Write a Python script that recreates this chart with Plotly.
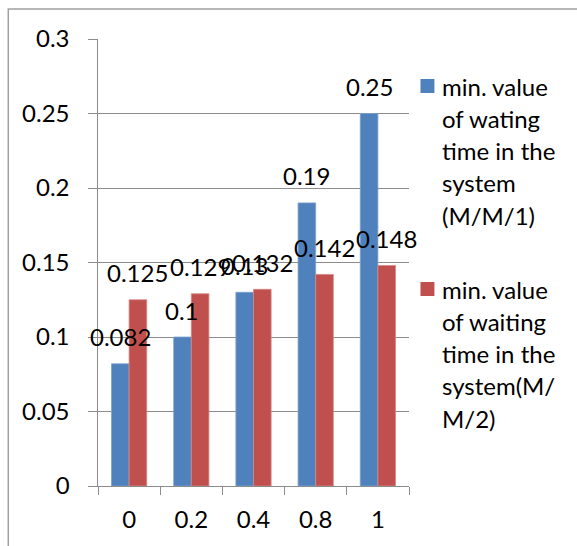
import plotly.graph_objects as go

# ---- data ----
categories = ["0", "0.2", "0.4", "0.8", "1"]
mm1_values = [0.082, 0.1, 0.13, 0.19, 0.25]
mm2_values = [0.125, 0.129, 0.132, 0.142, 0.148]
mm1_legend = ["min. value", "of wating", "time in the", "system", "(M/M/1)"]
mm2_legend = ["min. value", "of waiting", "time in the", "system(M/", "M/2)"]
y_ticks = [0, 0.05, 0.1, 0.15, 0.2, 0.25, 0.3]
y_ticktext = ["0", "0.05", "0.1", "0.15", "0.2", "0.25", "0.3"]

# ---- style ----
W, H = 577, 546
L, R, T, B = 97.5, 409.5, 39, 486
BLUE, RED = "#4F81BD", "#C0504D"
GRID = "#8c8c8c"
FONT = "Lato"
FS = 24
BARGAP = 0.433

pw, ph = R - L, B - T
def px(x):
    return (x - L) / pw
def py(y):
    return (B - y) / ph

bar_w_px = pw / len(categories) * (1 - BARGAP) / 2

fig = go.Figure()
fig.add_trace(go.Bar(x=categories, y=mm1_values, name="min. value of wating time in the system (M/M/1)",
                     marker=dict(color=BLUE, line=dict(color="#7fa2cf", width=0.8))))
fig.add_trace(go.Bar(x=categories, y=mm2_values, name="min. value of waiting time in the system(M/M/2)",
                     marker=dict(color=RED, line=dict(color="#d68886", width=0.8))))

annotations = []
for vals, sgn in ((mm1_values, -1), (mm2_values, 1)):
    for i, v in enumerate(vals):
        annotations.append(dict(x=i, y=v, xref="x", yref="y", text=f"{v:g}", showarrow=False,
                                xshift=sgn * bar_w_px / 2, yshift=27, yanchor="middle",
                                font=dict(family=FONT, size=FS, color="black")))

# manual legend
shapes = []
leg_x_sq, leg_x_txt = 421, 443
for lines, color, y0 in ((mm1_legend, BLUE, 86), (mm2_legend, RED, 289)):
    shapes.append(dict(type="rect", xref="paper", yref="paper",
                       x0=px(leg_x_sq), x1=px(leg_x_sq + 14), y0=py(y0 - 7), y1=py(y0 + 7),
                       fillcolor=color, line=dict(width=0)))
    for i, t in enumerate(lines):
        annotations.append(dict(x=px(leg_x_txt), y=py(y0 + i * 32.3), xref="paper", yref="paper",
                                text=t, showarrow=False, xanchor="left", yanchor="middle",
                                xshift=-2,
                                font=dict(family=FONT, size=FS, color="black")))

# outer border
shapes.append(dict(type="rect", xref="paper", yref="paper",
                   x0=px(7.5), x1=px(600), y0=py(570), y1=py(9),
                   line=dict(color="#a0a0a0", width=1.5), fillcolor="rgba(0,0,0,0)", layer="below"))

fig.update_layout(
    width=W, height=H,
    margin=dict(l=L, r=W - R, t=T, b=H - B, pad=0, autoexpand=False),
    paper_bgcolor="white", plot_bgcolor="white",
    barmode="group", bargap=BARGAP, bargroupgap=0,
    showlegend=False,
    font=dict(family=FONT, size=FS, color="black"),
    annotations=annotations, shapes=shapes,
    xaxis=dict(type="category", range=[-0.5, len(categories) - 0.5], autorange=False,
               showline=True, linecolor=GRID, linewidth=1.3,
               ticks="outside", ticklen=8, tickcolor=GRID, tickwidth=1.3,
               tickson="boundaries", showgrid=False, ticklabelstandoff=12,
               automargin=False,
               tickfont=dict(family=FONT, size=FS, color="black")),
    yaxis=dict(range=[0, 0.3], tickvals=y_ticks, ticktext=y_ticktext,
               showline=True, linecolor=GRID, linewidth=1.3,
               ticks="outside", ticklen=8.5, tickcolor=GRID, tickwidth=1.3,
               showgrid=True, gridcolor=GRID, gridwidth=1.3, zeroline=False,
               ticklabelstandoff=14, automargin=False,
               tickfont=dict(family=FONT, size=FS, color="black")),
)

fig.write_html("out.html")
